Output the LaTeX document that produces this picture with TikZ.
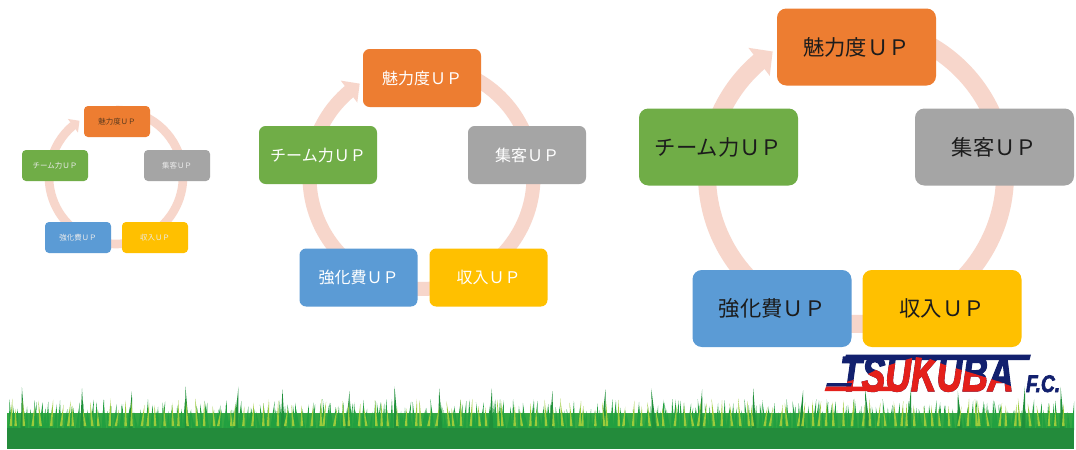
\documentclass[tikz,border=0pt]{standalone}
\usepackage{fontspec}
\usetikzlibrary{arrows.meta,bending,backgrounds}
\newfontfamily\jp{Noto Sans CJK JP}
\newfontfamily\logofont[FakeBold=2.8]{Liberation Sans Bold Italic}

\definecolor{cOrange}{HTML}{ED7D31}
\definecolor{cGray}{HTML}{A5A5A5}
\definecolor{cYellow}{HTML}{FFC000}
\definecolor{cBlue}{HTML}{5B9BD5}
\definecolor{cGreen}{HTML}{70AD47}
\definecolor{cRing}{HTML}{F7D6CB}
\definecolor{cInk}{HTML}{1C1C1C}
\definecolor{cInkS}{HTML}{5A3A1E}
\definecolor{navy}{HTML}{12206E}
\definecolor{logored}{HTML}{E4201B}
\definecolor{grassdark}{HTML}{238B3B}
\definecolor{grassmid}{HTML}{34A843}
\definecolor{grassblade}{HTML}{22A040}
\definecolor{grasslight}{HTML}{9CCB3B}

\tikzset{
  every node/.style={inner sep=0pt, outer sep=0pt},
  % large cycle
  boxL/.style={rounded corners=7pt, minimum width=119.25pt, minimum height=57.75pt,
    font=\jp\fontsize{16}{16}\selectfont, text=cInk},
  ringL/.style={draw=cRing, line width=13.5pt},
  % medium cycle
  boxM/.style={rounded corners=5pt, minimum width=88.5pt, minimum height=43.5pt,
    font=\jp\fontsize{12}{12}\selectfont, text=white},
  ringM/.style={draw=cRing, line width=10.5pt},
  % small cycle
  boxS/.style={rounded corners=3pt, minimum width=49.5pt, minimum height=23.25pt,
    font=\jp\fontsize{5.6}{5.6}\selectfont, text=white!92!black},
  ringS/.style={draw=cRing, line width=6.5pt},
  tipped/.style={-{Triangle[length=0pt 0.95, width=0pt 1.9]}},
  logotext/.style={font=\logofont\fontsize{37}{37}\selectfont},
  fctext/.style={font=\logofont\fontsize{18}{18}\selectfont},
}

\begin{document}
% one unit = one pixel, y grows downwards
\begin{tikzpicture}[x=0.75pt, y=-0.75pt]
\useasboundingbox (0,0) rectangle (1076,450);
\begin{scope}[on background layer]
  \fill[white] (0,0) rectangle (1076,450);
\end{scope}

% ---------- small cycle ----------
\coordinate (cS) at (116,177);
\node[boxS, fill=cOrange, text=cInkS] (sO) at (117,121.5) {魅力度ＵＰ};
\node[boxS, fill=cGray]   (sG) at (177,165.5) {集客ＵＰ};
\node[boxS, fill=cYellow] (sY) at (155,237.5) {収入ＵＰ};
\node[boxS, fill=cBlue]   (sB) at (78,237.5)  {強化費ＵＰ};
\node[boxS, fill=cGreen]  (sT) at (55,165.5)  {チーム力ＵＰ};
\begin{scope}[on background layer]
  \draw[ringS] (cS) ++(-90:67)   arc[start angle=-90,   end angle=-11.4, radius=67];
  \draw[ringS] (cS) ++(-11.4:67) arc[start angle=-11.4, end angle=57,    radius=67];
  \draw[ringS] (cS) ++(57:67)    arc[start angle=57,    end angle=122,   radius=67];
  \draw[ringS] (cS) ++(122:67)   arc[start angle=122,   end angle=191.5, radius=67];
  \draw[ringS, tipped] (cS) ++(191.5:67) arc[start angle=191.5, end angle=237, radius=67];
\end{scope}

% ---------- medium cycle ----------
\coordinate (cM) at (421.5,177);
\node[boxM, fill=cOrange] (mO) at (422,78)    {魅力度ＵＰ};
\node[boxM, fill=cGray]   (mG) at (527,155)   {集客ＵＰ};
\node[boxM, fill=cYellow] (mY) at (488.5,277.5) {収入ＵＰ};
\node[boxM, fill=cBlue]   (mB) at (358.5,277.5) {強化費ＵＰ};
\node[boxM, fill=cGreen]  (mT) at (318,155)   {チーム力ＵＰ};
\begin{scope}[on background layer]
  \draw[ringM] (cM) ++(-90:112)   arc[start angle=-90,   end angle=-11.4, radius=112];
  \draw[ringM] (cM) ++(-11.4:112) arc[start angle=-11.4, end angle=57,    radius=112];
  \draw[ringM] (cM) ++(57:112)    arc[start angle=57,    end angle=122,   radius=112];
  \draw[ringM] (cM) ++(122:112)   arc[start angle=122,   end angle=191.5, radius=112];
  \draw[ringM, tipped] (cM) ++(191.5:112) arc[start angle=191.5, end angle=236.5, radius=112];
\end{scope}

% ---------- large cycle ----------
\coordinate (cL) at (856,175);
\node[boxL, fill=cOrange] (lO) at (856.5,47)  {魅力度ＵＰ};
\node[boxL, fill=cGray]   (lG) at (994.5,147) {集客ＵＰ};
\node[boxL, fill=cYellow] (lY) at (942,308.5) {収入ＵＰ};
\node[boxL, fill=cBlue]   (lB) at (772,308.5) {強化費ＵＰ};
\node[boxL, fill=cGreen]  (lT) at (718.5,147) {チーム力ＵＰ};
\begin{scope}[on background layer]
  \draw[ringL] (cL) ++(-90:149)   arc[start angle=-90,   end angle=-11.4, radius=149];
  \draw[ringL] (cL) ++(-11.4:149) arc[start angle=-11.4, end angle=57,    radius=149];
  \draw[ringL] (cL) ++(57:149)    arc[start angle=57,    end angle=122,   radius=149];
  \draw[ringL] (cL) ++(122:149)   arc[start angle=122,   end angle=191.5, radius=149];
  \draw[ringL, tipped] (cL) ++(191.5:149) arc[start angle=191.5, end angle=236, radius=149];
\end{scope}

% ---------- grass strip ----------
\begin{scope}
  \clip (7,370) rectangle (1074,449);
  \fill[grassmid] (7,413) rectangle (1074,428);
  \pgfmathsetseed{11}
  \foreach \i in {0,...,340}{
    \pgfmathsetmacro\bx{8+\i*3.13+1.5*rand}
    \pgfmathsetmacro\bt{399+15*rnd}
    \pgfmathsetmacro\bl{3*rand}
    \fill[grassblade] (\bx-1.8,430) -- (\bx+\bl,\bt) -- (\bx+1.8,430) -- cycle;
  }
  \foreach \i in {0,...,20}{
    \pgfmathsetmacro\bx{28+\i*52+8*rand}
    \pgfmathsetmacro\bt{386+6*rnd}
    \pgfmathsetmacro\bl{4*rand}
    \fill[grassblade!90!black] (\bx-2.2,430) -- (\bx+\bl,\bt) -- (\bx+2.2,430) -- cycle;
  }
  \foreach \i in {0,...,130}{
    \pgfmathsetmacro\bx{10+\i*8.1+3*rand}
    \pgfmathsetmacro\bt{398+12*rnd}
    \pgfmathsetmacro\bl{3*rand}
    \fill[grasslight] (\bx-1.3,426) -- (\bx+\bl,\bt) -- (\bx+1.3,426) -- cycle;
  }
  \fill[grassdark] (7,428) rectangle (1074,449);
\end{scope}

% ---------- club logo ----------
\fill[navy] (846,354.5) -- (1031,354.5) -- (1029.5,360) -- (844.5,360) -- cycle;
\node[logotext, text=navy, anchor=base west] (tsukuba) at (840,391) {\scalebox{0.72}[1]{TSUKUBA}};
\begin{scope}
  \clip (815,400) -- (826,388) -- (860,378) -- (880,368) -- (915,357) -- (930,359)
        -- (945,365) -- (975,374) -- (1000,382) -- (1024,391) -- (1024,400) -- cycle;
  \node[logotext, text=logored, anchor=base west] (tsukubared) at (840,391) {\scalebox{0.72}[1]{TSUKUBA}};
\end{scope}
\fill[navy] (827,383) -- (852,383) -- (851,386.5) -- (826,386.5) -- cycle;
\fill[logored] (826,386.5) -- (900,386.5) -- (898.5,391) -- (824.5,391) -- cycle;
\node[fctext, text=navy, anchor=base west] (fc) at (1026,392) {\scalebox{0.8}[1]{F.C.}};
\end{tikzpicture}
\end{document}
